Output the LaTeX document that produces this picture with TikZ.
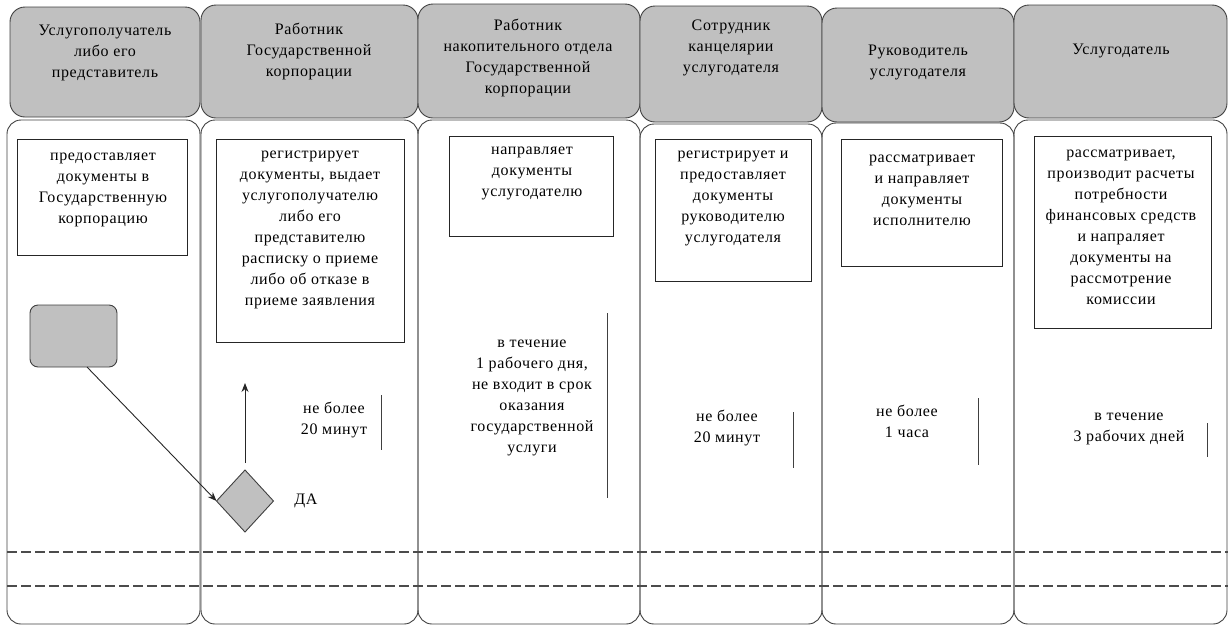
\documentclass[tikz,border=0pt]{standalone}
\usepackage{fontspec}
\setmainfont{Liberation Serif}
\newfontfamily\lanefont{Liberation Serif}[LetterSpace=4]
\usetikzlibrary{positioning,shapes.geometric,arrows.meta}

\definecolor{hdrgray}{HTML}{C0C0C0}

\begin{document}
\begin{tikzpicture}[x=1pt,y=-1pt,
  hdr/.style={draw=black!75,fill=hdrgray,line width=0.9pt,rounded corners=15pt,
    anchor=north west,inner sep=0pt,outer sep=0pt},
  lane/.style={draw=black!75,line width=0.9pt,rounded corners=14pt,
    anchor=north west,inner sep=0pt,outer sep=0pt},
  act/.style={draw=black!85,line width=0.9pt,anchor=north west,inner sep=0pt,outer sep=0pt},
  txt/.style={align=center,inner sep=0pt,font=\lanefont\fontsize{16}{21}\selectfont},
  tick/.style={draw=black!75,line width=1pt},
  flow/.style={-{Stealth[length=9pt,width=7pt]},line width=0.9pt,draw=black!85},
  sep/.style={draw=black!70,line width=1.2pt,dash pattern=on 10pt off 4pt}
]
\useasboundingbox (0,0) rectangle (1228,627);

% headers
\node[hdr,minimum width=190pt,minimum height=110pt] (h1) at (10,7) {};
\node[hdr,minimum width=217pt,minimum height=113pt] (h2) at (201,5) {};
\node[hdr,minimum width=222pt,minimum height=114pt] (h3) at (418,4) {};
\node[hdr,minimum width=182pt,minimum height=116pt] (h4) at (640,6) {};
\node[hdr,minimum width=192pt,minimum height=114pt] (h5) at (822,8) {};
\node[hdr,minimum width=213pt,minimum height=113pt] (h6) at (1014,5) {};

\node[txt] (h1t) at (105,53) {Услугополучатель\\либо его\\представитель};
\node[txt] (h2t) at (309,51) {Работник\\Государственной\\корпорации};
\node[txt] (h3t) at (528,58) {Работник\\накопительного  отдела\\Государственной\\корпорации};
\node[txt] (h4t) at (731,48) {Сотрудник\\канцелярии\\услугодателя};
\node[txt] (h5t) at (918,62) {Руководитель\\услугодателя};
\node[txt] (h6t) at (1121,51) {Услугодатель};

% lanes
\node[lane,minimum width=193pt,minimum height=504pt] (l1) at (7,120) {};
\node[lane,minimum width=217pt,minimum height=504pt] (l2) at (201,120) {};
\node[lane,minimum width=222pt,minimum height=504pt] (l3) at (418,120) {};
\node[lane,minimum width=182pt,minimum height=500pt] (l4) at (640,124) {};
\node[lane,minimum width=192pt,minimum height=501pt] (l5) at (822,123) {};
\node[lane,minimum width=213pt,minimum height=504pt] (l6) at (1014,120) {};

% actions
\node[act,minimum width=170pt,minimum height=116pt] (a1) at (17,139) {};
\node[act,minimum width=188pt,minimum height=203pt] (a2) at (216,139) {};
\node[act,minimum width=164pt,minimum height=100pt] (a3) at (449,136) {};
\node[act,minimum width=156pt,minimum height=142pt] (a4) at (655,139) {};
\node[act,minimum width=161pt,minimum height=127pt] (a5) at (841,139) {};
\node[act,minimum width=177pt,minimum height=192pt] (a6) at (1034,136) {};

\node[txt] (a1t) at (103,190) {предоставляет\\документы  в\\Государственную\\корпорацию};
\node[txt] (a2t) at (310,230) {регистрирует\\документы,  выдает\\услугополучателю\\либо его\\представителю\\расписку о приеме\\либо об отказе в\\приеме  заявления};
\node[txt] (a3t) at (532,173) {направляет\\документы\\услугодателю};
\node[txt] (a4t) at (733,198) {регистрирует  и\\предоставляет\\документы\\руководителю\\услугодателя};
\node[txt] (a5t) at (922,190) {рассматривает\\и направляет\\документы\\исполнителю};
\node[txt] (a6t) at (1121,227) {рассматривает,\\производит  расчеты\\потребности\\финансовых  средств\\и напраляет\\документы  на\\рассмотрение\\комиссии};

% start and decision
\node[draw=black!75,fill=hdrgray,line width=0.9pt,rounded corners=8pt,anchor=north west,
  minimum width=87pt,minimum height=62pt,inner sep=0pt,outer sep=0pt] (start) at (30,305) {};
\node[diamond,draw=black!75,fill=hdrgray,line width=0.9pt,minimum width=57pt,
  minimum height=62pt,inner sep=0pt,outer sep=0pt] (dec) at (245,501) {};
\node[txt] (yes) at (306,501) {ДА};
\coordinate (up) at (245,383);

\draw[flow] ([xshift=13.5pt]start.south) -- (dec.west);
\draw[flow] ([yshift=7pt]dec.north) -- (up);

% terms
\node[txt] (d2) at (334,420) {не более\\20 минут};
\node[txt] (d3) at (532,398) {в течение\\1 рабочего  дня,\\не входит в срок\\оказания\\государственной\\услуги};
\node[txt] (d4) at (727,428) {не более\\20 минут};
\node[txt] (d5) at (907,421) {не более\\1 часа};
\node[txt] (d6) at (1129,429) {в течение\\3 рабочих  дней};

\draw[tick] (381,395) -- (381,450);
\draw[tick] (607,313) -- (607,498);
\draw[tick] (793,412) -- (793,468);
\draw[tick] (978,398) -- (978,465);
\draw[tick] (1207,423) -- (1207,457);

% separators
\draw[sep] (7,552) -- (1228,552);
\draw[sep] (7,586) -- (1228,586);
\end{tikzpicture}
\end{document}
